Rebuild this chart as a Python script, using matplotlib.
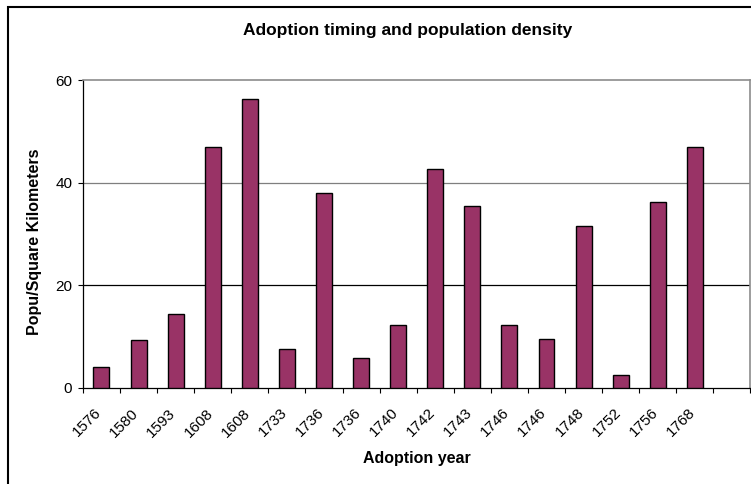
import numpy as np
import matplotlib.pyplot as plt
from matplotlib.patches import Rectangle
from matplotlib.transforms import ScaledTranslation

plt.rcParams['font.family'] = ['Liberation Sans', 'DejaVu Sans']

years = ['1576', '1580', '1593', '1608', '1608', '1733', '1736', '1736', '1740',
         '1742', '1743', '1746', '1746', '1748', '1752', '1756', '1768']
density = [4.0, 9.3, 14.4, 47.0, 56.2, 7.5, 38.0, 5.7, 12.2,
           42.6, 35.4, 12.2, 9.5, 31.6, 2.5, 36.3, 47.0]
n_slots = len(years) + 1  # one empty category at the end

fig = plt.figure(figsize=(7.51, 4.84), dpi=100)
ax = fig.add_axes([0.1104, 0.199, 0.8889, 0.6357])

x = np.arange(len(years))
ax.bar(x, density, width=0.43, color='#993366', edgecolor='black', linewidth=1.0, zorder=3)

ax.set_xlim(-0.5, n_slots - 0.5)
ax.set_ylim(0, 60)
ax.set_yticks([0, 20, 40, 60])
ax.tick_params(axis='y', labelsize=11, length=3.6, width=0.8, pad=4)

# boundary ticks without labels, year labels at the bar centres
ax.set_xticks(np.arange(n_slots + 1) - 0.5)
ax.set_xticklabels([])
ax.tick_params(axis='x', which='major', length=3.6, width=0.8)
ax.set_xticks(x, minor=True)
ax.set_xticklabels(years, minor=True, rotation=45, ha='right', va='top',
                   rotation_mode='anchor', fontsize=11)
ax.tick_params(axis='x', which='minor', length=0, pad=13)
shift = ScaledTranslation(-7 / 100, 0, fig.dpi_scale_trans)
for lbl in ax.get_xticklabels(minor=True):
    lbl.set_transform(lbl.get_transform() + shift)

for yv, c in [(20, 'black'), (40, '#7f7f7f')]:
    ax.axhline(yv, color=c, linewidth=0.9, zorder=1)

for side in ['top', 'right']:
    ax.spines[side].set_color('#8c8c8c')
    ax.spines[side].set_linewidth(1.2)
for side in ['left', 'bottom']:
    ax.spines[side].set_color('black')
    ax.spines[side].set_linewidth(0.9)

ax.set_ylabel('Popu/Square Kilometers', fontsize=11.5, fontweight='bold')
ax.yaxis.set_label_coords(35 / 751, 0.5, transform=fig.transFigure)
ax.yaxis.label.set_va('center')
ax.set_xlabel('Adoption year', fontsize=11.5, fontweight='bold')
ax.xaxis.set_label_coords(417 / 751, 1 - 458 / 484, transform=fig.transFigure)
ax.xaxis.label.set_va('center')

fig.text(408 / 751, 1 - 31 / 484, 'Adoption timing and population density',
         ha='center', va='center', fontsize=12.5, fontweight='bold')

# chart frame
fig.patches.append(Rectangle((8 / 751, -0.1), 1.2, 1 - 7 / 484 + 0.1,
                             transform=fig.transFigure, fill=False,
                             edgecolor='black', linewidth=1.5))

fig.savefig('out.png', dpi=100)
